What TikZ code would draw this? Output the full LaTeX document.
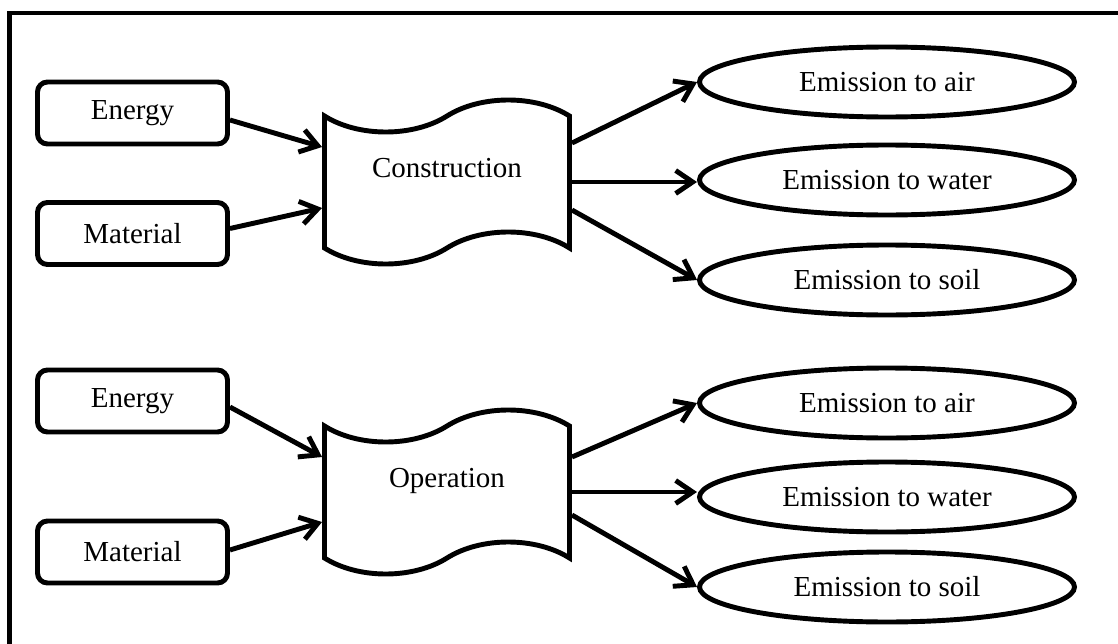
\documentclass[tikz,border=0pt]{standalone}
\usepackage{fontspec}
\setmainfont{Liberation Serif}
\usetikzlibrary{shapes.geometric,shapes.symbols,arrows.meta}

\tikzset{
	inbox/.style={draw, rounded corners=0.2cm, minimum width=3.8cm, minimum height=1.24cm, inner sep=0pt},
	stage/.style={draw, tape, tape bend height=0.64cm, minimum width=4.9cm, minimum height=3.28cm, inner sep=0pt, text height=0.4cm, text depth=0.6cm},
	outlet/.style={draw, ellipse, minimum width=7.5cm, minimum height=1.4cm, inner sep=0pt},
	flow/.style={-{Straight Barb[length=3.4mm,width=4.6mm]}}
}

\begin{document}
\begin{tikzpicture}[line width=2.8pt, font=\fontsize{16.5}{19}\selectfont]
			\useasboundingbox (0,0) rectangle (22.36,12.86);
			\draw (0.19,-0.2) -- (0.19,12.6) -- (22.6,12.6);
			% construction
			\node[inbox] (energyA) at (2.65,10.6) {Energy};
			\node[inbox] (materialA) at (2.65,8.19) {Material};
			\node[stage] (con) at (8.94,9.22) {Construction};
			\node[outlet] (airA) at (17.74,11.22) {Emission to air};
			\node[outlet] (waterA) at (17.74,9.26) {Emission to water};
			\node[outlet] (soilA) at (17.74,7.26) {Emission to soil};
			% operation
			\node[inbox] (energyB) at (2.65,4.84) {Energy};
			\node[inbox] (materialB) at (2.65,1.82) {Material};
			\node[stage] (op) at (8.94,3.02) {Operation};
			\node[outlet] (airB) at (17.74,4.8) {Emission to air};
			\node[outlet] (waterB) at (17.74,2.92) {Emission to water};
			\node[outlet] (soilB) at (17.74,1.12) {Emission to soil};
			% inputs
			\draw[flow] ([yshift=-0.14cm]energyA.east) -- ([yshift=0.7cm]con.west);
			\draw[flow] ([yshift=0.1cm]materialA.east) -- ([yshift=-0.52cm]con.west);
			\draw[flow] ([yshift=-0.12cm]energyB.east) -- ([yshift=0.7cm]op.west);
			\draw[flow] ([yshift=0.04cm]materialB.east) -- ([yshift=-0.6cm]op.west);
			% outputs
			\draw[flow] ([yshift=0.78cm]con.east) -- (airA.west);
			\draw[flow] (con.east) -- (con.east -| waterA.west);
			\draw[flow] ([yshift=-0.56cm]con.east) -- (soilA.west);
			\draw[flow] ([yshift=0.7cm]op.east) -- (airB.west);
			\draw[flow] (op.east) -- (op.east -| waterB.west);
			\draw[flow] ([yshift=-0.46cm]op.east) -- (soilB.west);
		\end{tikzpicture}
\end{document}
